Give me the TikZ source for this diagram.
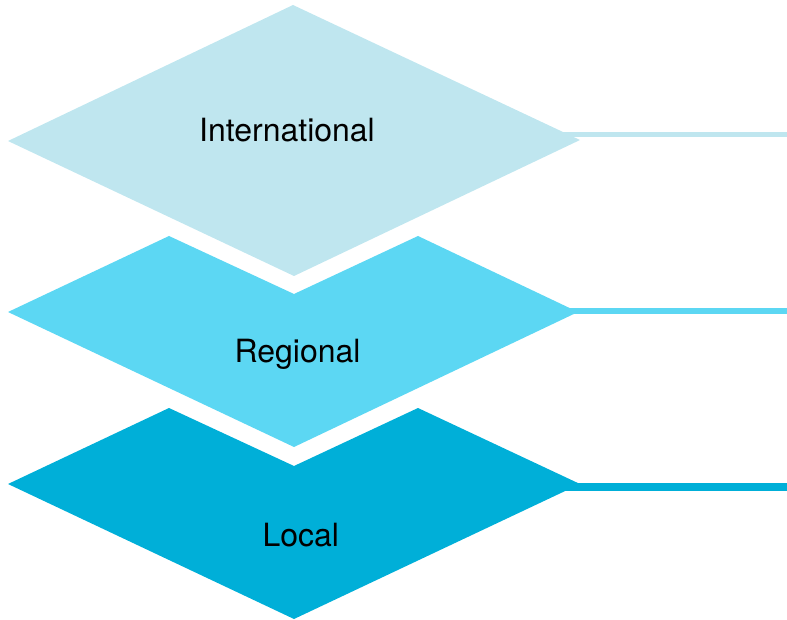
\documentclass[tikz,border=0pt]{standalone}
\usepackage{fontspec}
\setmainfont{TeX Gyre Heros}
\definecolor{cIntl}{RGB}{191,230,239}
\definecolor{cReg}{RGB}{92,215,243}
\definecolor{cLoc}{RGB}{0,175,216}
\tikzset{
  layerlabel/.style={font=\fontsize{32}{36}\selectfont, text=black, inner sep=0pt, anchor=base},
  leadline/.style={line cap=butt}
}
\begin{document}
\begin{tikzpicture}[x=1pt,y=-1pt]
\useasboundingbox (0,0) rectangle (787,620);
% top diamond
\fill[cIntl] (8,141) -- (293,5) -- (580,140) -- (294,276) -- cycle;
% middle chevron
\fill[cReg] (8,312) -- (169,236) -- (294,294) -- (418,236) -- (578,312) -- (294,447) -- cycle;
% bottom chevron
\fill[cLoc] (8,484) -- (169,408) -- (294,466) -- (418,408) -- (580,484) -- (294,619) -- cycle;
% labels
\node[layerlabel] (intl) at (287,141.7) {International};
\node[layerlabel] (reg) at (297.5,362.7) {Regional};
\node[layerlabel] (loc) at (300.8,546.7) {Local};
% lead lines
\coordinate (i1) at (555,134.4);
\coordinate (i2) at (787,134.4);
\coordinate (r1) at (570,311);
\coordinate (r2) at (787,311);
\coordinate (l1) at (560,487);
\coordinate (l2) at (787,487);
\draw[leadline, cIntl, line width=4.7pt] (i1) -- (i2);
\draw[leadline, cReg, line width=5.3pt] (r1) -- (r2);
\draw[leadline, cLoc, line width=7.5pt] (l1) -- (l2);
\end{tikzpicture}
\end{document}
